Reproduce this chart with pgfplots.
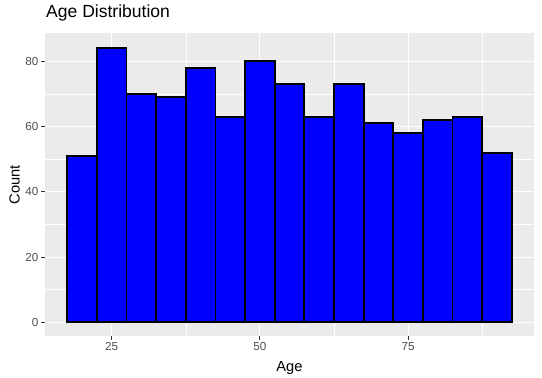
\documentclass[border=0pt]{standalone}
\usepackage{pgfplots}
\pgfplotsset{compat=1.18}
\usepackage{fontspec}
\setmainfont{Liberation Sans}
\definecolor{ggbg}{HTML}{EBEBEB}
\definecolor{ggtick}{HTML}{333333}
\definecolor{ggtext}{HTML}{4D4D4D}
\pgfplotstableread{
x y
17.5 51
22.5 84
27.5 70
32.5 69
37.5 78
42.5 63
47.5 80
52.5 73
57.5 63
62.5 73
67.5 61
72.5 58
77.5 62
82.5 63
87.5 52
92.5 52
}\agedata
\begin{document}
\begin{tikzpicture}[x=1bp,y=1bp]
\useasboundingbox (0,0) rectangle (542,377);
\begin{axis}[
  at={(45bp,41bp)}, anchor=south west,
  scale only axis, width=489bp, height=303bp,
  xmin=13.75, xmax=96.25, ymin=-4.2, ymax=88.7,
  axis background/.style={fill=ggbg},
  axis line style={draw=none},
  xtick={25,50,75}, ytick={0,20,40,60,80},
  minor xtick={37.5,62.5,87.5}, minor ytick={10,30,50,70},
  grid=both,
  major grid style={white, line width=1.07bp},
  minor grid style={white, line width=0.53bp},
  tick align=outside, xtick pos=bottom, ytick pos=left,
  major tick length=3.65bp, minor tick length=0pt,
  tick style={ggtick, line width=1.07bp},
  /pgf/number format/assume math mode=true,
  ticklabel style={font=\fontsize{11.7}{13}\selectfont, text=ggtext},
  xticklabel style={inner sep=0pt, yshift=-2.9bp},
  yticklabel style={inner sep=0pt, xshift=-2.9bp},
  xlabel={Age}, ylabel={Count},
  xlabel style={font=\fontsize{14.7}{16}\selectfont, at={(axis description cs:0.5,-0.104)}, anchor=center},
  ylabel style={font=\fontsize{14.7}{16}\selectfont, at={(axis description cs:-0.0624,0.5)}, anchor=center},
  title={Age Distribution},
  title style={font=\fontsize{17.6}{19}\selectfont, at={(axis description cs:0,1)}, anchor=base west, inner sep=0pt, xshift=1bp, yshift=10bp},
]
\addplot[ybar interval, fill=blue, draw=none] table[x=x,y=y] {\agedata};
\addplot[ybar interval, fill=none, draw=black, line width=1.8bp] table[x=x,y=y] {\agedata};
\end{axis}
\end{tikzpicture}
\end{document}
